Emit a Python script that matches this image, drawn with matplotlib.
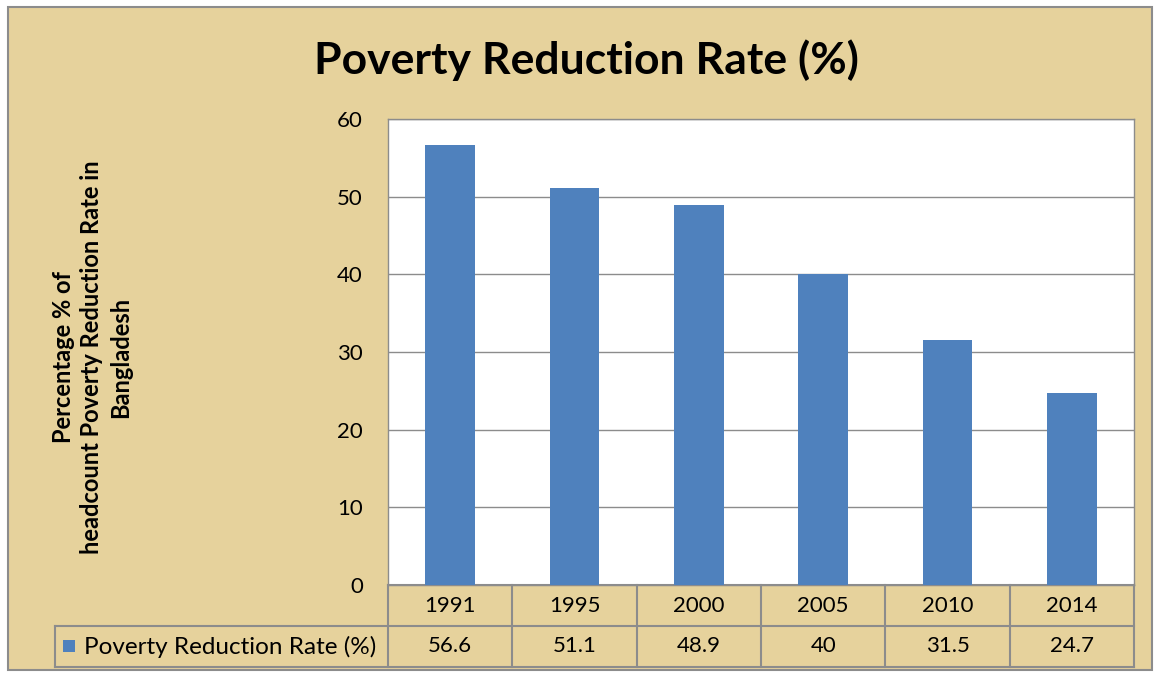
import matplotlib
matplotlib.use("Agg")
import matplotlib.pyplot as plt
from matplotlib.patches import Rectangle
from matplotlib.lines import Line2D

years = ["1991", "1995", "2000", "2005", "2010", "2014"]
values = [56.6, 51.1, 48.9, 40, 31.5, 24.7]
value_labels = ["56.6", "51.1", "48.9", "40", "31.5", "24.7"]
series_name = "Poverty Reduction Rate (%)"
title = "Poverty Reduction Rate (%)"
ylabel = "Percentage % of\nheadcount Poverty Reduction Rate in\nBangladesh"
yticks = [0, 10, 20, 30, 40, 50, 60]

plt.rcParams['font.family'] = ['Lato', 'DejaVu Sans']

W, H = 1155, 675
fig = plt.figure(figsize=(W / 100, H / 100), dpi=100)
bg = "#E6D29C"
fig.patch.set_facecolor("white")
# parchment panel with grey border
fig.patches.append(Rectangle((8 / W, 1 - 670 / H), (1152 - 8) / W, (670 - 7) / H,
                             transform=fig.transFigure, facecolor=bg,
                             edgecolor="#8C8C8C", linewidth=1.5, zorder=-5))

L, R, T, B = 388, 1134, 119, 585
ax = fig.add_axes([L / W, 1 - B / H, (R - L) / W, (B - T) / H])
ax.set_zorder(2)
ax.set_facecolor("white")
x = list(range(len(years)))
ax.bar(x, values, width=0.4, color="#4F81BD", zorder=3)
ax.set_xlim(-0.5, len(years) - 0.5)
ax.set_ylim(0, 60)
ax.set_yticks(yticks)
ax.set_yticklabels([str(t) for t in yticks], fontsize=16)
ax.tick_params(axis="y", length=0, pad=18)
for lbl in ax.get_yticklabels():
    lbl.set_va("center_baseline")
ax.set_xticks([])
ax.grid(axis="y", color="#8C8C8C", linewidth=1, zorder=1)
for s in ax.spines.values():
    s.set_color("#8C8C8C")
    s.set_linewidth(1)

fig.text(586 / W, 1 - 60 / H, title, ha="center", va="center",
         fontsize=32, fontweight="bold", zorder=3)
fig.text(92 / W, 1 - 357 / H, ylabel, rotation=90, ha="center", va="center",
         fontsize=17, fontweight="bold", linespacing=1.3, zorder=3)

# data table below the axes
trans = ax.get_xaxis_transform()
ph = B - T
r1 = -(626 - B) / ph
r2 = -(667 - B) / ph
gc = "#8C8C8C"
lw = 1.5
def hline(x0, x1, y):
    ax.add_line(Line2D([x0, x1], [y, y], transform=trans, color=gc, lw=lw, clip_on=False))
def vline(xx, y0, y1):
    ax.add_line(Line2D([xx, xx], [y0, y1], transform=trans, color=gc, lw=lw, clip_on=False))

cw = (R - L) / len(years)
xleft = -0.5 - (L - 55) / cw
hline(-0.5, len(years) - 0.5, 0)
hline(xleft, len(years) - 0.5, r1)
hline(xleft, len(years) - 0.5, r2)
vline(xleft, r1, r2)
for i in range(len(years) + 1):
    vline(i - 0.5, 0, r2)
for i, (yr, vl) in enumerate(zip(years, value_labels)):
    ax.text(i, r1 / 2, yr, transform=trans, ha="center", va="center", fontsize=16)
    ax.text(i, (r1 + r2) / 2, vl, transform=trans, ha="center", va="center", fontsize=16)
# legend key
sq = 12
fig.patches.append(Rectangle((63 / W, 1 - (646 + sq / 2) / H), sq / W, sq / H,
                             transform=fig.transFigure, facecolor="#4F81BD",
                             edgecolor="none", zorder=3))
ax.text(-0.5 - (L - 84) / cw, (r1 + r2) / 2, series_name,
        transform=trans, ha="left", va="center", fontsize=17.5)

fig.savefig("out.png", dpi=100, facecolor=fig.get_facecolor())
